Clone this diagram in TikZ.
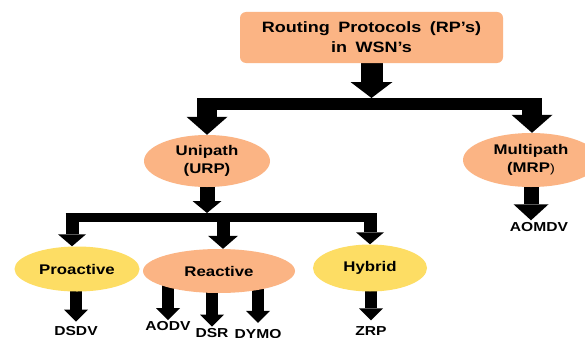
\documentclass[tikz,border=0pt]{standalone}
\usepackage{fontspec}
\newfontfamily\lblfont[FakeStretch=1.2, WordSpace=1.7]{Liberation Sans}
\usetikzlibrary{shapes.geometric, arrows.meta, calc}
\pgfdeclarelayer{back}
\pgfsetlayers{back,main}
\definecolor{peach}{RGB}{251,180,132}
\definecolor{sand}{RGB}{253,221,100}

\begin{document}
\begin{tikzpicture}[x = 1pt, y = -1pt,
	lbl/.style = {font = \lblfont\bfseries\fontsize{14}{18.5}\selectfont, align = center, inner sep = 0pt},
	big/.style = {lbl, font = \lblfont\bfseries\fontsize{15}{20}\selectfont},
	leaf/.style = {lbl, font = \lblfont\bfseries\fontsize{13}{16}\selectfont, inner sep = 1.5pt},
	rpbox/.style = {big, rectangle, rounded corners = 6pt, fill = peach, minimum width = 263pt, minimum height = 51pt},
	oval/.style = {lbl, ellipse, fill = #1},
	blk/.style n args = {3}{draw = black, line width = #1, -{Triangle[width = #2, length = #3, line width = 0pt]}},
]
	\useasboundingbox (0,0) rectangle (585,337);

	\def\yBarA{104};
	\def\yTopA{98};
	\def\yBarB{217.5};
	\def\yTopB{213};

	\node [rpbox] (rp) at (371.5,37.5) {Routing Protocols (RP’s)\\in WSN’s};

	\node [oval = peach, minimum width = 126pt, minimum height = 52pt] (uni) at (207,161) {Unipath\\(URP)};
	\node [oval = peach, minimum width = 136pt, minimum height = 54pt] (mrp) at (531,160) {Multipath\\(MRP{\mdseries\fontsize{12}{14}\selectfont)}};

	\node [oval = sand, minimum width = 125pt, minimum height = 45pt] (pro) at (77,269) {Proactive};
	\node [oval = peach, minimum width = 152pt, minimum height = 44pt] (reac) at (219,271) {Reactive};
	\node [oval = sand, minimum width = 114pt, minimum height = 47pt] (hyb) at (370,268) {Hybrid};

	\node [leaf] (aomdv) at (539,226.6) {AOMDV};
	\node [leaf] (dsdv) at (76,331) {DSDV};
	\node [leaf] (aodv) at (168,326.3) {AODV};
	\node [leaf] (dsr) at (212,333) {DSR};
	\node [leaf] (dymo) at (258,333.6) {DYMO};
	\node [leaf] (zrp) at (371,331.5) {ZRP};

	\begin{pgfonlayer}{back}
		\fill [white] (0,0) rectangle (585,337);

		\draw [blk = {22pt}{42pt}{16pt}] (rp.south) -- (rp.south |- 0,\yTopA);
		\draw [line width = 12pt] ($(uni.north |- 0,\yBarA) + (-10,0)$) -- ($(mrp.north |- 0,\yBarA) + (11,0)$);
		\draw [blk = {20pt}{41pt}{18pt}] (uni.north |- 0,\yTopA) -- (uni.north);
		\draw [blk = {20pt}{41pt}{18pt}] ($(mrp.north |- 0,\yTopA) + (1,0)$) -- ($(mrp.north) + (1,0)$);

		\draw [blk = {15pt}{29pt}{12pt}] (uni.south) -- (uni.south |- 0,\yTopB);
		\draw [line width = 9.5pt] ($(pro.north |- 0,\yBarB) + (-11.5,0)$) -- ($(hyb.north |- 0,\yBarB) + (7,0)$);
		\draw [blk = {13pt}{28pt}{12pt}] ($(pro.north |- 0,\yTopB) + (-5,0)$) -- ($(pro.north) + (-5,0)$);
		\draw [blk = {13pt}{30pt}{13pt}] ($(reac.north |- 0,\yTopB) + (4,0)$) -- ($(reac.north) + (4,0)$);
		\draw [blk = {13pt}{28pt}{12pt}] (hyb.north |- 0,\yTopB) -- (hyb.north);

		\draw [blk = {15pt}{35pt}{16pt}] (mrp.center) -- (mrp.center |- aomdv.north);

		\foreach \leaf/\src/\gap in {dsdv/pro/3, aodv/reac/0, dsr/reac/0, dymo/reac/4.5, zrp/hyb/5}
			\draw [blk = {12pt}{24pt}{12pt}, shorten > = \gap pt] (\leaf.north |- \src.center) -- (\leaf.north);
	\end{pgfonlayer}
\end{tikzpicture}
\end{document}
